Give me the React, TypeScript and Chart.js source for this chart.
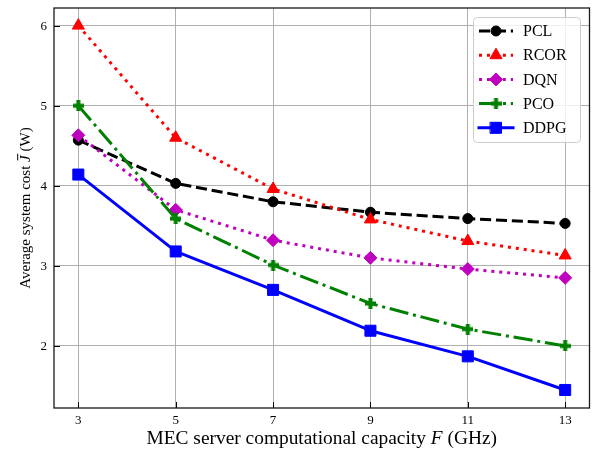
import React, { useEffect, useRef } from 'react';
import { Chart, registerables } from 'chart.js';
import { drawPoint } from 'chart.js/helpers';

Chart.register(...registerables);

const capacities = [3, 5, 7, 9, 11, 13];
const pclCost = [4.57, 4.03, 3.8, 3.67, 3.59, 3.53];
const rcorCost = [6.0, 4.6, 3.96, 3.58, 3.31, 3.13];
const dqnCost = [4.63, 3.7, 3.32, 3.1, 2.96, 2.85];
const pcoCost = [5.0, 3.59, 3.01, 2.53, 2.21, 2.0];
const ddpgCost = [4.14, 3.18, 2.7, 2.19, 1.87, 1.45];
const seriesLabels = ['PCL', 'RCOR', 'DQN', 'PCO', 'DDPG'];
const xTickValues = [3, 5, 7, 9, 11, 13];
const yTickValues = [2, 3, 4, 5, 6];

const FONT = '"Liberation Serif", "Times New Roman", serif';

function makePlus(size: number, arm: number, color: string): HTMLCanvasElement {
  const c = document.createElement('canvas');
  c.width = size;
  c.height = size;
  const g = c.getContext('2d')!;
  g.fillStyle = color;
  const a = (size - arm) / 2;
  g.fillRect(a, 0, arm, size);
  g.fillRect(0, a, size, arm);
  return c;
}

const framePlugin = {
  id: 'frameAndText',
  afterDraw(chart: any) {
    const ctx: CanvasRenderingContext2D = chart.ctx;
    const { left, right, top, bottom } = chart.chartArea;
    const xs = chart.scales.x;
    const ys = chart.scales.y;
    ctx.save();
    // inward ticks (left & bottom)
    ctx.strokeStyle = '#000';
    ctx.lineWidth = 1;
    xTickValues.forEach((v) => {
      const px = Math.round(xs.getPixelForValue(v)) + 0.5;
      ctx.beginPath();
      ctx.moveTo(px, bottom);
      ctx.lineTo(px, bottom - 6);
      ctx.stroke();
    });
    yTickValues.forEach((v) => {
      const py = Math.round(ys.getPixelForValue(v)) + 0.5;
      ctx.beginPath();
      ctx.moveTo(left, py);
      ctx.lineTo(left + 6, py);
      ctx.stroke();
    });
    // frame
    ctx.strokeStyle = '#1a1a1a';
    ctx.lineWidth = 1.3;
    ctx.strokeRect(left, top, right - left, bottom - top);

    // tick labels
    ctx.fillStyle = '#000';
    ctx.font = `13px ${FONT}`;
    ctx.textBaseline = 'middle';
    ctx.textAlign = 'center';
    xTickValues.forEach((v) => {
      ctx.fillText(String(v), xs.getPixelForValue(v), bottom + 12.5);
    });
    ctx.textAlign = 'right';
    yTickValues.forEach((v) => {
      ctx.fillText(String(v), left - 7, ys.getPixelForValue(v) + 0.5);
    });

    const drawParts = (parts: { t: string; it?: boolean }[], size: number, cx: number, by: number) => {
      const widths = parts.map((p) => {
        ctx.font = `${p.it ? 'italic ' : ''}${size}px ${FONT}`;
        return ctx.measureText(p.t).width;
      });
      const total = widths.reduce((s, w) => s + w, 0);
      let x = cx - total / 2;
      const pos: number[] = [];
      parts.forEach((p, i) => {
        ctx.font = `${p.it ? 'italic ' : ''}${size}px ${FONT}`;
        ctx.fillText(p.t, x, by);
        pos.push(x);
        x += widths[i];
      });
      return { pos, widths };
    };
    // x title
    ctx.fillStyle = '#000';
    ctx.textAlign = 'left';
    ctx.textBaseline = 'alphabetic';
    drawParts(
      [{ t: 'MEC server computational capacity ' }, { t: 'F', it: true }, { t: ' (GHz)' }],
      19.4,
      (left + right) / 2,
      443.5
    );

    // y title
    ctx.save();
    ctx.translate(30, (top + bottom) / 2);
    ctx.rotate(-Math.PI / 2);
    const ySize = 15;
    const r = drawParts(
      [{ t: 'Average system cost ' }, { t: 'J', it: true }, { t: ' (W)' }],
      ySize,
      0,
      0
    );
    // bar over J
    ctx.strokeStyle = '#000';
    ctx.lineWidth = 1;
    const jx = r.pos[1];
    ctx.beginPath();
    ctx.moveTo(jx + 1.5, -ySize * 0.82);
    ctx.lineTo(jx + r.widths[1] + 1.5, -ySize * 0.82);
    ctx.stroke();
    ctx.restore();

    // legend
    const lx = 473.5, ly = 17.5, lw = 107, lh = 125, rad = 4;
    ctx.beginPath();
    ctx.moveTo(lx + rad, ly);
    ctx.arcTo(lx + lw, ly, lx + lw, ly + lh, rad);
    ctx.arcTo(lx + lw, ly + lh, lx, ly + lh, rad);
    ctx.arcTo(lx, ly + lh, lx, ly, rad);
    ctx.arcTo(lx, ly, lx + lw, ly, rad);
    ctx.closePath();
    ctx.fillStyle = 'rgba(255,255,255,0.8)';
    ctx.fill();
    ctx.strokeStyle = '#cccccc';
    ctx.lineWidth = 1;
    ctx.stroke();

    chart.data.datasets.forEach((ds: any, i: number) => {
      const y = 31 + i * 24.2;
      ctx.save();
      ctx.strokeStyle = ds.borderColor;
      ctx.lineWidth = ds.borderWidth;
      ctx.lineCap = ds.borderCapStyle || 'butt';
      ctx.setLineDash(ds.borderDash || []);
      ctx.beginPath();
      ctx.moveTo(479, y);
      ctx.lineTo(513, y);
      ctx.stroke();
      ctx.setLineDash([]);
      ctx.fillStyle = ds.pointBackgroundColor;
      ctx.strokeStyle = ds.borderColor;
      ctx.lineWidth = ds.pointBorderWidth;
      drawPoint(ctx, { pointStyle: ds.pointStyle, rotation: 0, radius: ds.pointRadius, borderWidth: ds.pointBorderWidth } as any, 496, y);
      ctx.restore();
      ctx.fillStyle = '#000';
      ctx.font = `16px ${FONT}`;
      ctx.textBaseline = 'middle';
      ctx.textAlign = 'left';
      ctx.fillText(ds.label, 523, y + 1);
    });
    ctx.restore();
  },
};

export default function App() {
  const ref = useRef<HTMLCanvasElement | null>(null);
  useEffect(() => {
    if (!ref.current) return;
    const toPts = (arr: number[]) => arr.map((y, i) => ({ x: capacities[i], y }));
    const plus = makePlus(11, 4, '#008000');
    const mk = (label: string, data: number[], color: string, dash: number[], style: any, radius: number, order: number, cap: CanvasLineCap = 'butt') => ({
      label,
      data: toPts(data),
      borderColor: color,
      backgroundColor: color,
      pointBackgroundColor: color,
      pointBorderColor: color,
      pointBorderWidth: 1,
      borderWidth: 3,
      borderDash: dash,
      borderCapStyle: cap,
      borderJoinStyle: 'round' as CanvasLineJoin,
      pointStyle: style,
      pointRadius: radius,
      pointHoverRadius: radius,
      tension: 0,
      fill: false,
      order,
    });
    const chart = new Chart(ref.current, {
      type: 'line',
      data: {
        datasets: [
          mk(seriesLabels[0], pclCost, '#000000', [11.1, 4.8], 'circle', 5, 5),
          mk(seriesLabels[1], rcorCost, '#ff0000', [3, 4.95], 'triangle', 7, 4),
          mk(seriesLabels[2], dqnCost, '#bf00bf', [3, 4.95], 'rectRot', 6.5, 3),
          mk(seriesLabels[3], pcoCost, '#008000', [19.2, 4.8, 3, 4.8], plus, 5.5, 2),
          mk(seriesLabels[4], ddpgCost, '#0000ff', [], 'rect', 7.8, 1, 'square'),
        ] as any,
      },
      options: {
        animation: false,
        responsive: false,
        devicePixelRatio: 1,
        events: [],
        layout: { autoPadding: false, padding: { top: 8, right: 2.5, left: 0, bottom: 0 } },
        plugins: { legend: { display: false }, tooltip: { enabled: false } },
        scales: {
          x: {
            type: 'linear',
            min: 2.5,
            max: 13.5,
            afterBuildTicks: (s: any) => {
              s.ticks = xTickValues.map((v) => ({ value: v }));
            },
            afterFit: (s: any) => {
              s.height = 44;
              s.paddingLeft = 0;
              s.paddingRight = 0;
            },
            grid: { color: '#b0b0b0', lineWidth: 1, drawTicks: false },
            border: { display: false },
            ticks: { display: false },
          },
          y: {
            type: 'linear',
            min: 1.225,
            max: 6.22,
            afterBuildTicks: (s: any) => {
              s.ticks = yTickValues.map((v) => ({ value: v }));
            },
            afterFit: (s: any) => {
              s.width = 54;
              s.paddingTop = 0;
              s.paddingBottom = 0;
            },
            grid: { color: '#b0b0b0', lineWidth: 1, drawTicks: false },
            border: { display: false },
            ticks: { display: false },
          },
        },
      } as any,
      plugins: [framePlugin],
    });
    return () => chart.destroy();
  }, []);
  return (
    <div style={{ position: 'absolute', left: 0, top: 0, width: 592, height: 452, background: '#fff' }}>
      <canvas ref={ref} width={592} height={452} style={{ display: 'block', width: 592, height: 452 }} />
    </div>
  );
}
